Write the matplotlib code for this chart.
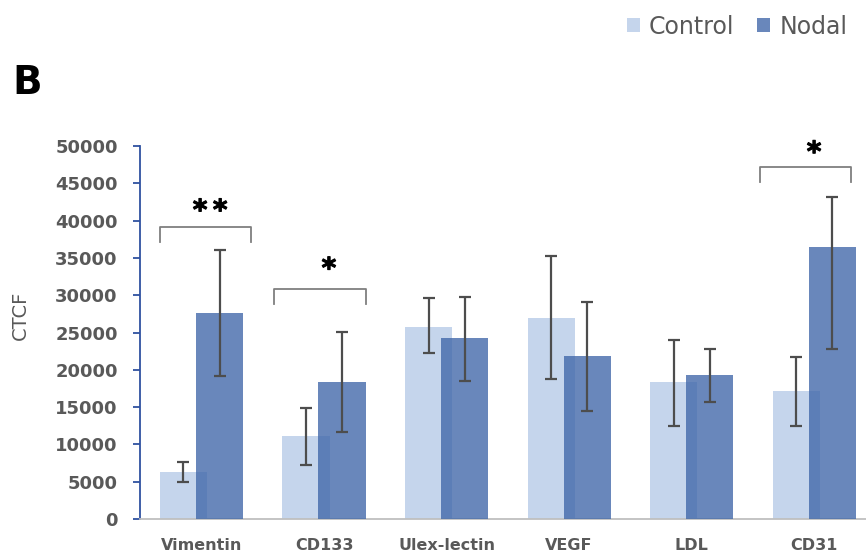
import matplotlib.pyplot as plt
import matplotlib.patheffects as pe
import numpy as np

categories = ['Vimentin', 'CD133', 'Ulex-lectin', 'VEGF', 'LDL', 'CD31']
control = [6300, 11100, 25800, 27000, 18300, 17100]
control_lo = [1400, 3900, 3600, 8200, 5900, 4600]
control_hi = [1400, 3800, 3800, 8200, 5700, 4600]
nodal = [27600, 18300, 24200, 21800, 19300, 36400]
nodal_lo = [8400, 6700, 5700, 7300, 3600, 13600]
nodal_hi = [8400, 6800, 5600, 7300, 3500, 6800]

# significance brackets: (category, left, right, bracket height, label x, label y, label)
sig = [(0, -0.34, 0.40, 39100, 0.07, 40200, '*\u2009*'),
       (1, -0.41, 0.34, 30800, 0.04, 32400, '*'),
       (5, -0.44, 0.30, 47200, 0.00, 48000, '*')]

fig = plt.figure(figsize=(8.66, 5.54), dpi=100)
ax = fig.add_axes([140 / 866, 1 - 519 / 554, 726 / 866, 373 / 554])

x = np.arange(len(categories))
w = 0.384
off = 0.147
ax.bar(x - off, control, w, color='#c5d5ec', zorder=2, label='Control')
ax.bar(x + off, nodal, w, color='#3f66a8', alpha=0.78, zorder=3, label='Nodal')
ax.errorbar(x - off, control, yerr=[control_lo, control_hi], fmt='none',
            ecolor='#4d4d4d', elinewidth=1.6, capsize=4.3, capthick=1.6, zorder=4)
ax.errorbar(x + off, nodal, yerr=[nodal_lo, nodal_hi], fmt='none',
            ecolor='#4d4d4d', elinewidth=1.6, capsize=4.3, capthick=1.6, zorder=4)

for i, l, r, h, lx, ly, lab in sig:
    ax.plot([i + l, i + l, i + r, i + r], [h - 2000, h, h, h - 2000],
            color='#7f7f7f', lw=1.3, zorder=5)
    ax.text(i + lx, ly, lab, ha='center', va='baseline', fontsize=20,
            fontweight='bold', color='black',
            path_effects=[pe.withStroke(linewidth=0.8, foreground='black')])

ax.set_xlim(-0.502, 5.424)
ax.set_ylim(0, 50000)
ax.set_yticks(np.arange(0, 50001, 5000))
ax.set_xticks(x)
ax.set_xticklabels(categories, fontsize=11.5, fontweight='bold', color='#595959')
ax.tick_params(axis='x', length=0, pad=14)
ax.tick_params(axis='y', labelsize=13, labelcolor='#595959', color='#2f52a0',
               length=5, width=1.3, pad=11)
for t in ax.get_yticklabels():
    t.set_fontweight('bold')
ax.set_ylabel('CTCF', fontsize=14, color='#595959')
ax.yaxis.set_label_coords(-110 / 726, 204 / 373)

for s in ['top', 'right']:
    ax.spines[s].set_visible(False)
ax.spines['left'].set_color('#2f52a0')
ax.spines['left'].set_linewidth(1.3)
ax.spines['bottom'].set_color('#bfbfbf')
ax.spines['bottom'].set_linewidth(1.3)

fig.legend(loc='upper right', bbox_to_anchor=(1.003, 1.012), ncol=2, frameon=False,
           fontsize=17, handlelength=0.55, handleheight=0.55, columnspacing=0.95,
           handletextpad=0.4, labelcolor='#595959')
fig.text(27 / 866, 1 - 83 / 554, 'B', fontsize=28, fontweight='bold',
         family=['Liberation Sans Narrow', 'DejaVu Sans'], ha='center', va='center')

fig.savefig('out.png', dpi=100)
